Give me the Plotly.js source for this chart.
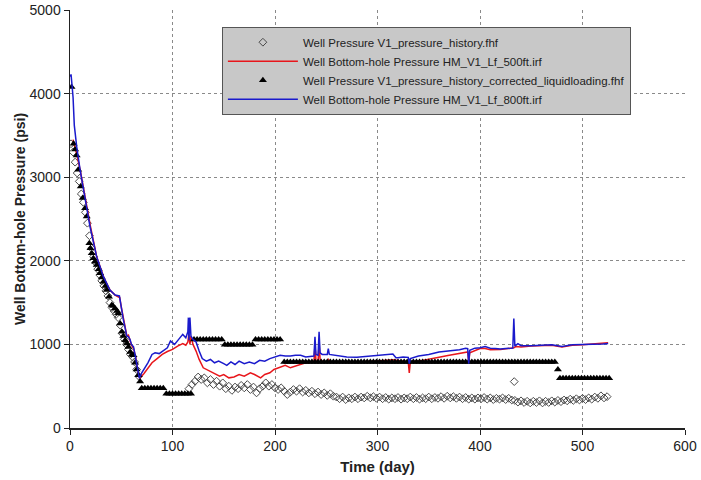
<!DOCTYPE html>
<html>
<head>
<meta charset="utf-8">
<script src="https://cdn.plot.ly/plotly-3.0.1.min.js"></script>
<style>html,body{margin:0;padding:0;background:#fff;}#chart{width:701px;height:480px;}</style>
</head>
<body>
<div id="chart"></div>
<script>
// ---- Series: Well Pressure V1_pressure_history.fhf (open diamonds)
var histDays = [1,3,5,7,9,11,13,15,17,19,21,23,25,27,29,31,33,35,37,39,41,43,45,47,49,51,53,55,57,59,61,63,65,67,
116,119,122,125,128,131,134,137,140,143,146,149,152,155,158,161,164,167,170,173,176,179,182,185,188,191,194,197,200,203,206,209,212,215,218,221,224,227,230,233,236,239,242,245,248,251,254,257,260,263,266,269,272,275,278,281,284,287,290,293,296,299,302,305,308,311,314,317,320,323,326,329,332,335,338,341,344,347,350,353,356,359,362,365,368,371,374,377,380,383,386,389,392,395,398,401,404,407,410,413,416,419,422,425,428,431,433.4,434,437,440,443,446,449,452,455,458,461,464,467,470,473,476,479,482,485,488,491,494,497,500,503,506,509,512,515,518,521,524];
var histPsi = [3400,3300,3180,3050,2950,2800,2700,2580,2450,2300,2150,2050,1980,1900,1830,1760,1700,1640,1580,1500,1440,1400,1360,1320,1230,1130,1060,1000,940,880,850,790,700,620,
470,520,560,610,580,600,540,580,520,560,500,540,470,500,450,490,470,510,480,520,460,490,420,470,500,540,500,520,480,460,480,440,400,430,460,440,470,430,450,420,440,410,430,400,420,390,410,380,370,350,370,340,360,350,370,350,370,360,380,360,375,355,370,350,365,345,360,350,365,345,360,350,370,350,365,345,360,350,370,350,365,355,375,355,380,360,375,355,370,350,365,345,360,345,360,350,365,345,360,340,355,345,360,340,355,335,555,330,310,325,305,320,300,320,305,325,300,320,305,325,310,330,315,335,325,345,330,350,335,355,340,360,345,370,355,385,360,375];

// ---- Series: Well Bottom-hole Pressure HM_V1_Lf_500ft.irf (red line)
var hm500Days = [3,5,7,10,13,16,20,26,33,39,44,47,48.5,50,53,55.5,57,58.5,60,62,64,66,68,72,76,80,85,90,95,100,105,110,113,115,116,117,118,120,123,126,130,135,140,146,150,155,160,165,170,176,180,186,190,195,199,205,210,215,220,225,230,235,238,239,240,242,243,244,246,251,252,253,260,280,300,315,325,330,331,332,340,350,360,370,380,388,389,390,400,405,410,420,430,433,435,440,450,460,470,480,490,500,510,520,525];
var hm500Psi = [3450,3360,3250,3080,2870,2670,2410,2050,1800,1650,1590,1570,1560,1450,1250,1100,1110,1060,990,950,850,700,595,650,720,780,830,880,915,940,980,1010,990,1030,1130,1000,1100,1000,920,820,720,690,660,620,640,600,610,640,620,660,640,600,640,660,700,730,750,720,740,760,780,790,790,1000,800,790,1020,820,800,790,830,790,790,790,800,815,800,790,660,790,800,820,845,870,895,910,780,900,950,950,935,940,955,960,975,970,980,985,990,970,990,995,1005,1010,1020];

// ---- Series: Well Pressure V1_pressure_history_corrected_liquidloading.fhf (filled triangles)
var corrDays = [1.5,3.5,5,6.5,8,10.5,12.4,14.7,16.3,18.9,20,21.2,22.8,24.5,26.1,28,29.3,31,32.6,34.5,35.9,38,40.8,42,44,46,47.2,48.9,50.5,52,53.8,55.5,57,58.7,60.5,61.9,63.5,65,66.8,68.4,
70,73,76,79,82,85,88,91,
94,97,100,103,106,109,112,115,118,
121,124,127,130,133,136,139,142,145,148,
151,154,157,160,163,166,169,172,175,178,
181,184,187,190,193,196,199,202,205,
209,212,215,218,221,224,227,230,233,236,239,242,245,248,251,254,257,260,263,266,269,272,275,278,281,284,287,290,293,296,299,302,305,308,311,314,317,320,323,326,329,332,335,338,341,344,347,350,353,356,359,362,365,368,371,374,377,380,383,386,389,392,395,398,401,404,407,410,413,416,419,422,425,428,431,434,437,440,443,446,449,452,455,458,461,464,467,470,473,
476,
478,481,484,487,490,493,496,499,502,505,508,511,514,517,520,523,526];
var corrPsi = [4080,3400,3330,3260,3090,2890,2750,2630,2530,2210,2150,2090,2030,1990,1950,1900,1850,1800,1750,1700,1650,1570,1470,1460,1430,1400,1370,1250,1150,1100,1050,1010,970,910,880,870,780,700,630,555,
475,475,475,475,475,475,475,475,
410,410,410,410,410,410,410,410,410,
1060,1060,1060,1060,1060,1060,1060,1060,1060,1060,
995,995,995,995,995,995,995,995,995,995,
1060,1060,1060,1060,1060,1060,1060,1060,1060,
790,790,790,790,790,790,790,790,790,790,790,790,790,790,790,790,790,790,790,790,790,790,790,790,790,790,790,790,790,790,790,790,790,790,790,790,790,790,790,790,790,790,790,790,790,790,790,790,790,790,790,790,790,790,790,790,790,790,790,790,790,790,790,790,790,790,790,790,790,790,790,790,790,790,790,790,790,790,790,790,790,790,790,790,790,790,790,790,790,
700,
595,595,595,595,595,595,595,595,595,595,595,595,595,595,595,595,595];

// ---- Series: Well Bottom-hole Pressure HM_V1_Lf_800ft.irf (blue line)
var hm800Days = [0.5,1,2,3,4.2,6.5,9.8,14.7,19.5,26,32.6,39,44,48.2,49.5,52,55.4,57,58.5,60,62,64,66,67.7,70,73,76,80,83,87,90,95,98,102,106,110,113,115,115.5,116,117,118,120,123,126,129,133,137,141,145,150,153,157,161,165,170,175,180,185,190,195,200,205,210,215,220,225,230,235,238,239,240,242,243,244,246,251,252,253,258,264,270,280,290,300,310,315,318,320,325,330,331,332,340,350,360,370,380,386,388,389,390,395,400,405,410,415,420,425,430,432,433,434,437,440,450,460,470,480,490,500,510,520,525];
var hm800Psi = [4200,4230,4100,3950,3620,3370,3090,2730,2410,2050,1810,1650,1590,1580,1470,1300,1100,1090,1060,1000,970,850,700,595,660,720,780,880,900,890,920,960,1040,1000,1060,1120,1080,1150,1320,1050,1320,1100,1060,1030,920,830,800,820,780,800,770,750,790,760,800,770,790,770,810,800,830,850,870,860,860,870,870,850,860,860,1090,880,870,1150,900,880,880,950,880,870,860,850,845,855,870,880,885,840,840,850,845,770,830,860,880,910,925,935,955,950,770,930,955,960,975,955,950,945,950,960,955,1310,980,1010,985,985,990,995,975,995,1000,1000,1005,1010];

var xTicks = [0,100,200,300,400,500,600];
var yTicks = [0,1000,2000,3000,4000,5000];

var traces = [
  {x: histDays, y: histPsi, mode: 'markers', name: 'Well Pressure V1_pressure_history.fhf',
   marker: {symbol: 'diamond-open', size: 6, color: '#4a4a4a', line: {width: 1, color: '#4a4a4a'}}},
  {x: hm500Days, y: hm500Psi, mode: 'lines', name: 'Well Bottom-hole Pressure HM_V1_Lf_500ft.irf',
   line: {color: '#e8161b', width: 1.5}},
  {x: corrDays, y: corrPsi, mode: 'markers', name: 'Well Pressure V1_pressure_history_corrected_liquidloading.fhf',
   marker: {symbol: 'triangle-up', size: 7, color: '#000000'}},
  {x: hm800Days, y: hm800Psi, mode: 'lines', name: 'Well Bottom-hole Pressure HM_V1_Lf_800ft.irf',
   line: {color: '#1a1acc', width: 1.5}}
];

var layout = {
  width: 701, height: 480,
  margin: {l: 70, r: 16, t: 10, b: 52},
  paper_bgcolor: '#ffffff', plot_bgcolor: '#ffffff',
  font: {family: 'Liberation Sans, Arial, sans-serif', size: 14, color: '#222'},
  xaxis: {
    range: [0, 600], tickvals: xTicks, ticktext: xTicks.map(String),
    showline: true, linecolor: '#222', linewidth: 1.5, ticks: 'outside', ticklen: 5, tickcolor: '#222',
    showgrid: true, gridcolor: '#8a8a8a', griddash: 'dot', gridwidth: 1, zeroline: false,
    title: {text: '<b>Time (day)</b>', font: {size: 15, color: '#222'}, standoff: 8}
  },
  yaxis: {
    range: [0, 5000], tickvals: yTicks, ticktext: yTicks.map(String),
    showline: true, linecolor: '#222', linewidth: 1.5, ticks: 'outside', ticklen: 5, tickcolor: '#222',
    showgrid: true, gridcolor: '#8a8a8a', griddash: 'dot', gridwidth: 1, zeroline: false,
    title: {text: '<b>Well Bottom-hole Pressure (psi)</b>', font: {size: 14, color: '#222'}, standoff: 0}
  },
  showlegend: true,
  legend: {
    x: 0.247, y: 0.96, xanchor: 'left', yanchor: 'top',
    bgcolor: '#c8c8c8', bordercolor: '#555', borderwidth: 1,
    font: {size: 11.5, color: '#222'}, itemwidth: 70, tracegroupgap: 0
  }
};

Plotly.newPlot('chart', traces, layout, {displayModeBar: false, staticPlot: true});
</script>
</body>
</html>
